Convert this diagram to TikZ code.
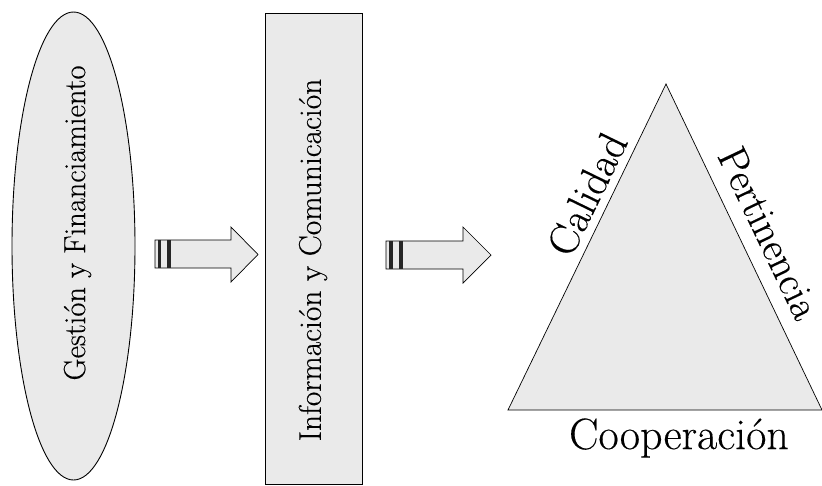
\documentclass[tikz,border=0pt]{standalone}
\usepackage{fontspec}
\setmainfont{Latin Modern Roman}[FakeBold=0.3]
\usetikzlibrary{shapes.geometric}
\definecolor{boxfill}{RGB}{234,234,234}
\tikzset{
  shapebox/.style={draw=black, line width=0.9pt, fill=boxfill, inner sep=0pt},
  stripearrow/.style={draw=black, line width=0.7pt, fill=boxfill},
  stripebar/.style={fill=black!85},
  vlabel/.style={inner sep=0pt, rotate=90},
}
\begin{document}
\begin{tikzpicture}[x=1pt,y=-1pt]
\useasboundingbox (0,0) rectangle (822,485);
% ellipse
\node[shapebox, ellipse, minimum width=123pt, minimum height=468pt] (gest) at (73.5,246) {};
\node[vlabel, font=\fontsize{30.5}{32}\selectfont] (gestlabel) at (77.5,223) {Gestión y Financiamiento};
% rectangle
\node[shapebox, rectangle, minimum width=97pt, minimum height=471pt] (info) at (313.5,248.5) {};
\node[vlabel, font=\fontsize{31.5}{34}\selectfont] (infolabel) at (313,260) {Información y Comunicación};
% striped arrow 1
\draw[stripearrow] (155,240) -- (231,240) -- (231,227) -- (258,254.5) -- (231,282) -- (231,268) -- (155,268) -- cycle;
\fill[stripebar] (157.5,240) rectangle (161,268);
\fill[stripebar] (167,240) rectangle (170.5,268);
% striped arrow 2
\draw[stripearrow] (386,241) -- (463,241) -- (463,227) -- (491,255) -- (463,283) -- (463,269) -- (386,269) -- cycle;
\fill[stripebar] (389,241) rectangle (392.5,269);
\fill[stripebar] (399,241) rectangle (402.5,269);
% triangle
\coordinate (tl) at (508,410);
\coordinate (tr) at (822,410);
\coordinate (tt) at (666,84);
\draw[stripearrow] (tl) -- (tt) -- (tr) -- cycle;
\node[inner sep=0pt, rotate=64, font=\fontsize{42}{44}\selectfont] (calidad) at (587,194) {Calidad};
\node[inner sep=0pt, rotate=-64.5, font=\fontsize{41}{44}\selectfont] (pert) at (769,233) {Pertinencia};
\node[inner sep=0pt, font=\fontsize{44}{46}\selectfont] (coop) at (679,438) {Cooperación};
\end{tikzpicture}
\end{document}
